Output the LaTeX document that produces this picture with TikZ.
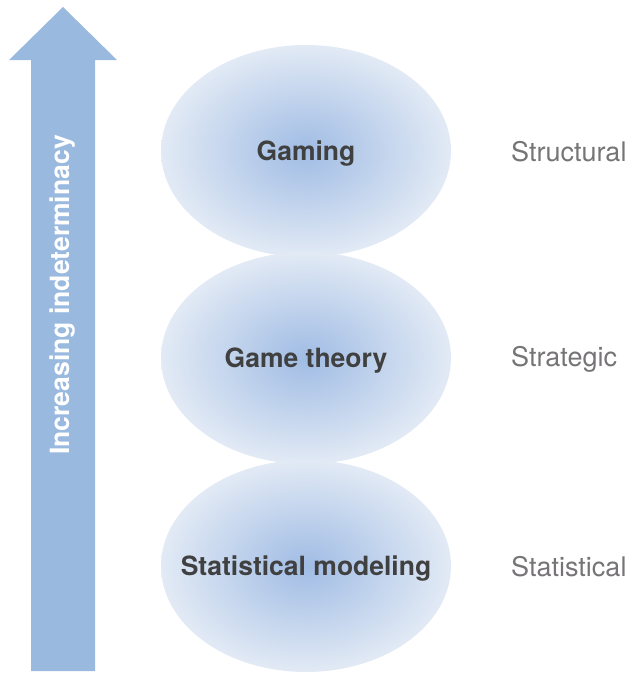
\documentclass[tikz,border=0pt]{standalone}
\usepackage{fontspec}
\setmainfont{TeX Gyre Heros}
\usetikzlibrary{shapes.geometric}

\definecolor{arrowblue}{RGB}{153,185,223}
\definecolor{blobin}{RGB}{160,188,228}
\definecolor{blobout}{RGB}{226,234,245}
\definecolor{darktext}{RGB}{64,64,64}
\definecolor{sidetext}{RGB}{118,116,118}

\tikzset{
  blob/.style={ellipse, inner sep=0pt, minimum width=290pt, minimum height=212pt,
    inner color=blobin, outer color=blobout},
  blobtext/.style={font=\bfseries\fontsize{26.5}{30}\selectfont, text=darktext},
  side/.style={anchor=west, inner sep=2pt, font=\fontsize{27}{31}\selectfont, text=sidetext}
}

\begin{document}
\begin{tikzpicture}[x=1pt,y=-1pt]
\useasboundingbox (0,0) rectangle (627,675);

% arrow
\fill[arrowblue] (63,7) -- (117,60) -- (95,60) -- (95,671) -- (31,671) -- (31,60) -- (9,60) -- cycle;
\node[rotate=90, text=white, font=\bfseries\fontsize{26.5}{30}\selectfont] (arrowlabel) at (63,295) {Increasing indeterminacy};

% ellipses
\node[blob] (gaming) at (306,151) {};
\node[blob] (theory) at (306,358) {};
\node[blob] (stats) at (306,566) {};

\node[blobtext, yshift=-3pt] (gamingtext) at (gaming) {Gaming};
\node[blobtext, yshift=-3pt] (theorytext) at (theory) {Game theory};
\node[blobtext, yshift=-3pt] (statstext) at (stats) {Statistical modeling};

% levels
\node[side] (structural) at (509,152) {Structural};
\node[side] (strategic) at (509,359) {Strategic};
\node[side] (statistical) at (509,567) {Statistical};
\end{tikzpicture}
\end{document}
